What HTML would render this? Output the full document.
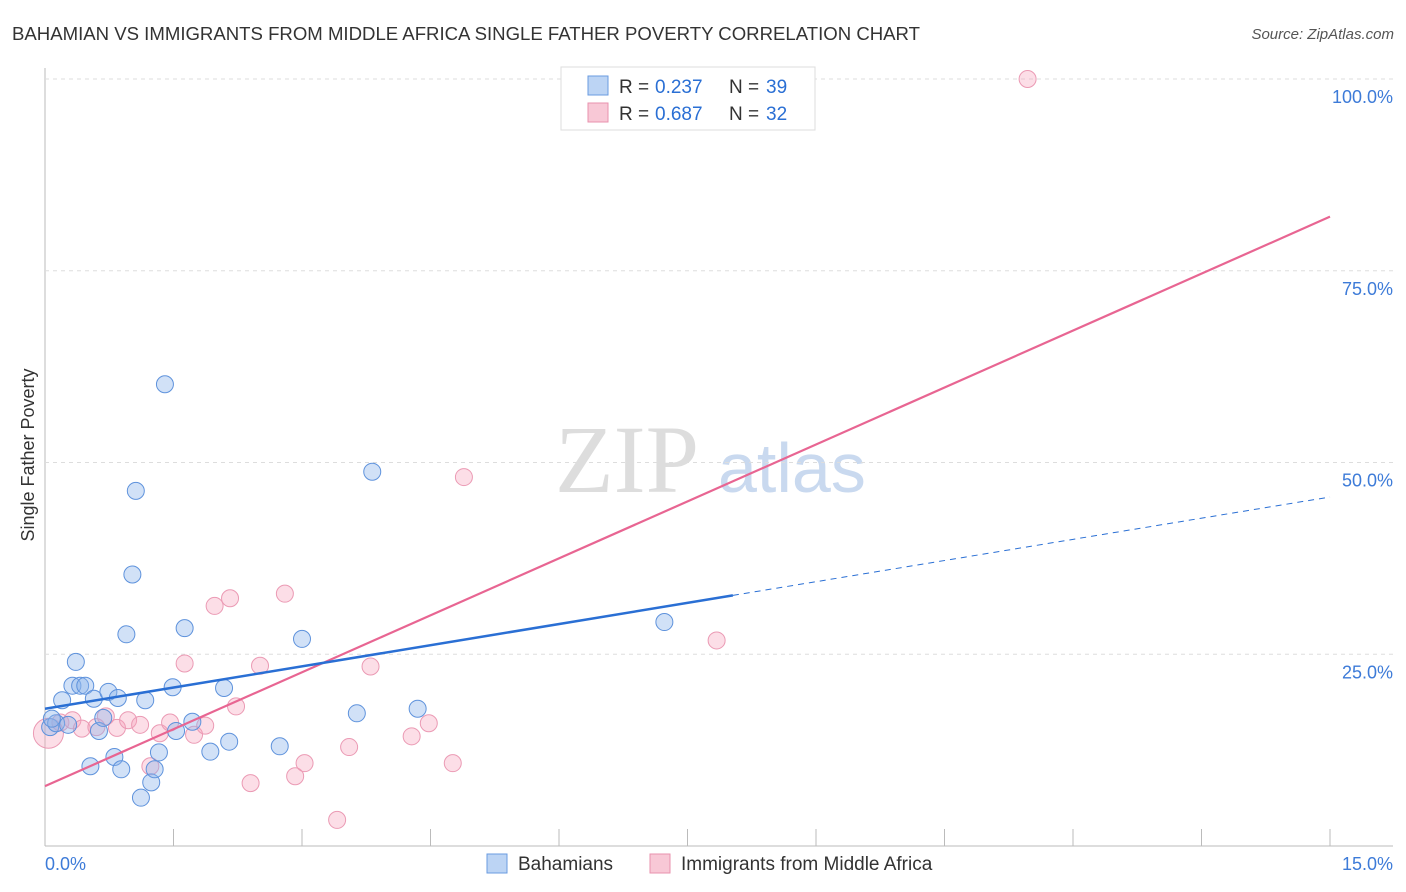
<!DOCTYPE html>
<html><head><meta charset="utf-8"><style>
body{margin:0;background:#fff;font-family:"Liberation Sans",sans-serif;}
#wrap{position:relative;width:1406px;height:892px;overflow:hidden}
</style></head><body>
<div id="wrap">
<svg id="chart" width="1406" height="892" xmlns="http://www.w3.org/2000/svg">
<text x="12" y="40" font-size="18.6" fill="#333" textLength="908">BAHAMIAN VS IMMIGRANTS FROM MIDDLE AFRICA SINGLE FATHER POVERTY CORRELATION CHART</text>
<text x="1394" y="39" font-size="15" fill="#555" font-style="italic" text-anchor="end">Source: ZipAtlas.com</text>
<text x="555" y="492" font-size="96" fill="#ddd" font-family="Liberation Serif,serif">ZIP</text>
<text x="718" y="492" font-size="70" fill="#c9d9ef">atlas</text>
<text transform="translate(34,455) rotate(-90)" font-size="18" fill="#333" text-anchor="middle">Single Father Poverty</text>
<g id="grid"></g><g id="pts"></g><g id="lines"></g>
<g>
<rect x="561" y="67" width="254" height="63" fill="#fff" stroke="#ddd"/>
<rect x="588" y="76" width="20" height="19" fill="#bcd4f4" stroke="#6a9be0"/>
<rect x="588" y="103" width="20" height="19" fill="#f8c8d6" stroke="#e892ae"/>
<text x="619" y="93" font-size="19" fill="#333">R =</text><text x="655" y="93" font-size="19" fill="#2a6fd4">0.237</text>
<text x="729" y="93" font-size="19" fill="#333">N =</text><text x="766" y="93" font-size="19" fill="#2a6fd4">39</text>
<text x="619" y="120" font-size="19" fill="#333">R =</text><text x="655" y="120" font-size="19" fill="#2a6fd4">0.687</text>
<text x="729" y="120" font-size="19" fill="#333">N =</text><text x="766" y="120" font-size="19" fill="#2a6fd4">32</text>
</g>
<g>
<rect x="487" y="854" width="20" height="19" fill="#bcd4f4" stroke="#6a9be0"/>
<text x="518" y="870" font-size="19" fill="#333">Bahamians</text>
<rect x="650" y="854" width="20" height="19" fill="#f8c8d6" stroke="#e892ae"/>
<text x="681" y="870" font-size="19" fill="#333">Immigrants from Middle Africa</text>
</g>
</svg>
</div>
<script>
const yTicks=[25,50,75,100];
const yTickLabels=["25.0%","50.0%","75.0%","100.0%"];
const xTickLabels=["0.0%","15.0%"];
const blueX=[0.06,0.13,0.2,0.27,0.32,0.36,0.41,0.47,0.53,0.57,0.63,0.68,0.74,0.81,0.85,0.89,0.95,1.02,1.06,1.12,1.17,1.24,1.28,1.33,1.4,1.49,1.53,1.63,1.72,1.93,2.09,2.15,2.74,3.0,3.64,3.82,4.35,7.23,0.08];
const blueY=[15.5,16.0,19.0,15.8,20.9,24.0,20.9,20.9,10.4,19.2,15.0,16.7,20.1,11.6,19.3,10.0,27.6,35.4,46.3,6.3,19.0,8.3,10.0,12.2,60.2,20.7,15.0,28.4,16.2,12.3,20.6,13.6,13.0,27.0,17.3,48.8,17.9,29.2,16.6];
const pinkX=[0.04,0.18,0.32,0.43,0.6,0.71,0.84,0.97,1.11,1.23,1.34,1.46,1.63,1.74,1.87,1.98,2.16,2.23,2.4,2.51,2.8,2.92,3.03,3.41,3.55,3.8,4.28,4.48,4.76,4.89,7.84,11.47];
const pinkY=[14.7,16.1,16.4,15.3,15.5,16.9,15.4,16.4,15.8,10.4,14.7,16.1,23.8,14.5,15.7,31.3,32.3,18.2,8.2,23.5,32.9,9.1,10.8,3.4,12.9,23.4,14.3,16.0,10.8,48.1,26.8,100.0];
const blueFit=[17.9,1.84], blueSolidEnd=8.03;
const pinkFit=[7.8,4.95];
const X=v=>45+v/15*1285, Y=v=>846-v*7.67;
const NS="http://www.w3.org/2000/svg";
function mk(t,a,p){const e=document.createElementNS(NS,t);for(const k in a)e.setAttribute(k,a[k]);p.appendChild(e);return e;}
const grid=document.getElementById('grid');
mk('line',{x1:45,y1:68,x2:45,y2:846,stroke:'#bbb'},grid);
mk('line',{x1:45,y1:846,x2:1393,y2:846,stroke:'#bbb'},grid);
for(let i=1;i<=10;i++){const l=mk('line',{x1:X(i*1.5),y1:829,x2:X(i*1.5),y2:846,stroke:'#bbb'},grid);

}
yTicks.forEach((v,i)=>{const l=mk('line',{x1:45,y1:Y(v),x2:1393,y2:Y(v),stroke:'#ddd','stroke-dasharray':'4,4'},grid);


const t=mk('text',{x:1393,y:Y(v)+24,'font-size':18,fill:'#3d7bd8','text-anchor':'end'},grid);t.textContent=yTickLabels[i];

});
xTickLabels.forEach((s,i)=>{const t=mk('text',{x:i?1393:45,y:870,'font-size':18,fill:'#3d7bd8','text-anchor':i?'end':'start'},grid);t.textContent=s;

});
const pts=document.getElementById('pts');
pinkX.forEach((x,i)=>{const c=mk('circle',{cx:X(x),cy:Y(pinkY[i]),r:i==0?15:8.5,fill:'rgba(245,160,185,0.35)',stroke:'#eb9ab4','stroke-width':1},pts);

});
blueX.forEach((x,i)=>{const c=mk('circle',{cx:X(x),cy:Y(blueY[i]),r:8.5,fill:'rgba(140,180,235,0.4)',stroke:'#5e92dc','stroke-width':1},pts);

});
const lines=document.getElementById('lines');
const f=(fit,x)=>fit[0]+fit[1]*x;
let a=mk('line',{x1:X(0),y1:Y(f(pinkFit,0)),x2:X(15),y2:Y(f(pinkFit,15)),stroke:'#e86592','stroke-width':2.2},lines);


let b=mk('line',{x1:X(0),y1:Y(f(blueFit,0)),x2:X(blueSolidEnd),y2:Y(f(blueFit,blueSolidEnd)),stroke:'#2a6fd4','stroke-width':2.5},lines);


let c=mk('line',{x1:X(blueSolidEnd),y1:Y(f(blueFit,blueSolidEnd)),x2:X(15),y2:Y(f(blueFit,15)),stroke:'#2a6fd4','stroke-width':1,'stroke-dasharray':'6,5'},lines);


</script>
</body></html>
